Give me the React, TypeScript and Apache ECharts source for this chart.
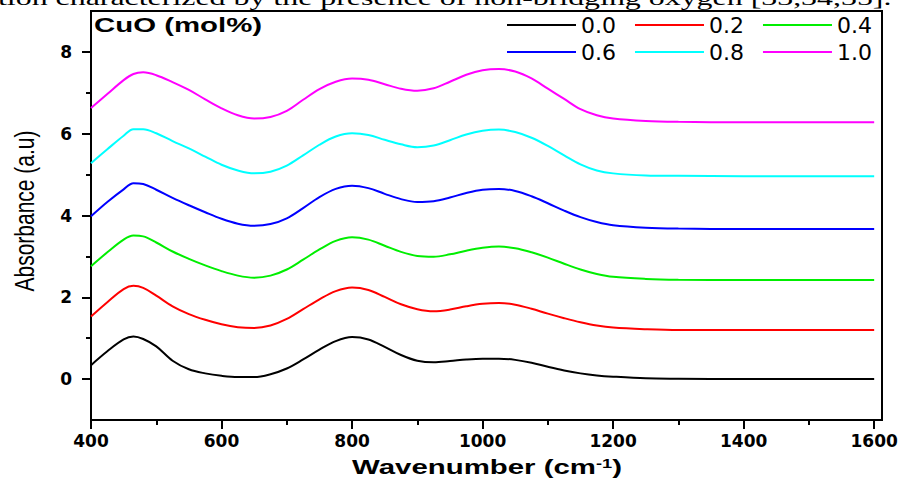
import React, { useEffect, useRef } from 'react';
import * as echarts from 'echarts';

// Wavenumber grid (cm-1)
const wavenumbers = [400, 425, 450, 465, 480, 500, 525, 550, 575, 600, 625, 650, 675, 700, 725, 750, 775, 800, 825, 850, 875, 900, 925, 950, 975, 1000, 1025, 1050, 1075, 1100, 1125, 1150, 1175, 1200, 1250, 1300, 1400, 1500, 1600];

const names = ['0.0', '0.2', '0.4', '0.6', '0.8', '1.0'];
const colors = ['#000000', '#ff0000', '#00ee00', '#0000ff', '#00ffff', '#ff00ff'];

const cuo00 = [0.34, 0.68, 0.97, 1.04, 0.98, 0.80, 0.45, 0.24, 0.14, 0.08, 0.05, 0.05, 0.12, 0.26, 0.48, 0.72, 0.93, 1.03, 0.97, 0.79, 0.59, 0.45, 0.41, 0.44, 0.48, 0.50, 0.50, 0.47, 0.40, 0.30, 0.21, 0.14, 0.09, 0.06, 0.02, 0.01, 0.0, 0.0, 0.0];
const cuo02 = [1.53, 1.88, 2.20, 2.28, 2.23, 2.04, 1.78, 1.59, 1.45, 1.34, 1.27, 1.25, 1.31, 1.47, 1.71, 1.95, 2.15, 2.24, 2.18, 2.01, 1.83, 1.71, 1.66, 1.70, 1.78, 1.84, 1.86, 1.82, 1.72, 1.60, 1.49, 1.39, 1.31, 1.26, 1.22, 1.20, 1.20, 1.20, 1.20];
const cuo04 = [2.76, 3.10, 3.41, 3.51, 3.49, 3.34, 3.12, 2.94, 2.78, 2.64, 2.53, 2.48, 2.53, 2.68, 2.92, 3.17, 3.38, 3.47, 3.41, 3.26, 3.11, 3.01, 2.99, 3.05, 3.14, 3.21, 3.24, 3.20, 3.10, 2.97, 2.82, 2.68, 2.57, 2.50, 2.45, 2.43, 2.42, 2.42, 2.42];
const cuo06 = [3.98, 4.33, 4.64, 4.79, 4.77, 4.63, 4.43, 4.25, 4.08, 3.92, 3.80, 3.75, 3.79, 3.93, 4.18, 4.45, 4.65, 4.73, 4.67, 4.53, 4.40, 4.33, 4.35, 4.44, 4.55, 4.63, 4.65, 4.60, 4.47, 4.30, 4.12, 3.96, 3.84, 3.76, 3.70, 3.68, 3.67, 3.67, 3.67];
const cuo08 = [5.28, 5.62, 5.95, 6.11, 6.11, 6.01, 5.82, 5.64, 5.44, 5.24, 5.10, 5.03, 5.07, 5.22, 5.47, 5.73, 5.93, 6.01, 5.97, 5.85, 5.74, 5.67, 5.71, 5.84, 5.98, 6.07, 6.10, 6.04, 5.90, 5.70, 5.47, 5.25, 5.10, 5.03, 4.98, 4.97, 4.96, 4.96, 4.96];
const cuo10 = [6.63, 6.97, 7.31, 7.46, 7.50, 7.43, 7.26, 7.07, 6.84, 6.62, 6.45, 6.37, 6.41, 6.56, 6.83, 7.09, 7.27, 7.35, 7.32, 7.21, 7.10, 7.05, 7.11, 7.27, 7.44, 7.55, 7.58, 7.52, 7.35, 7.10, 6.85, 6.60, 6.45, 6.37, 6.31, 6.29, 6.28, 6.28, 6.28];

const seriesValues = [cuo00, cuo02, cuo04, cuo06, cuo08, cuo10];

const xMajorTicks = [400, 600, 800, 1000, 1200, 1400, 1600];
const xMinorTicks = [500, 700, 900, 1100, 1300, 1500];
const yMajorTicks = [0, 2, 4, 6, 8];
const yMinorTicks = [1, 3, 5, 7];

const topText = 'tion characterized by the presence of non-bridging oxygen [33,34,35].';

export default function App() {
  const ref = useRef<HTMLDivElement>(null);

  useEffect(() => {
    if (!ref.current) return;
    const chart = echarts.init(ref.current, undefined, { renderer: 'svg', width: 903, height: 479 });

    const tickLabel = {
      color: '#000',
      fontFamily: 'DejaVu Sans',
      fontWeight: 'bold' as const,
      fontSize: 17,
    };
    const axisLineStyle = { color: '#000', width: 2 };

    const series = names.map((n, i) => ({
      name: n,
      type: 'line',
      xAxisIndex: 0,
      yAxisIndex: 0,
      data: wavenumbers.map((w, j) => [w, seriesValues[i][j]]),
      symbol: 'none',
      showSymbol: false,
      smooth: 0.35,
      lineStyle: { color: colors[i], width: 2 },
      itemStyle: { color: colors[i] },
      silent: true,
    }));

    const legendBase = {
      icon: 'rect',
      itemWidth: 69,
      itemHeight: 2,
      itemGap: 19,
      padding: 0,
      selectedMode: false,
      orient: 'horizontal',
      left: 507,
      textStyle: { color: '#000', fontFamily: 'DejaVu Sans', fontSize: 22 },
    };

    const option: any = {
      animation: false,
      backgroundColor: '#ffffff',
      grid: {
        left: 91,
        right: 21,
        top: 11,
        bottom: 59,
        show: true,
        borderColor: '#000',
        borderWidth: 2,
        backgroundColor: 'transparent',
      },
      legend: [
        { ...legendBase, top: 14, data: names.slice(0, 3) },
        { ...legendBase, top: 41, data: names.slice(3, 6) },
      ],
      xAxis: [
        {
          type: 'value',
          position: 'bottom',
          min: 400,
          max: 1612,
          interval: 200,
          axisLine: { show: true, onZero: false, lineStyle: axisLineStyle },
          axisTick: { show: true, inside: false, length: 9, lineStyle: axisLineStyle, customValues: xMajorTicks },
          axisLabel: {
            ...tickLabel,
            margin: 12,
            customValues: xMajorTicks,
            formatter: (v: number) => (v % 200 === 0 ? String(v) : ''),
          },
          splitLine: { show: false },
        },
        {
          type: 'value',
          position: 'bottom',
          min: 400,
          max: 1612,
          interval: 100,
          axisLine: { show: false, onZero: false },
          axisTick: { show: true, inside: false, length: 5, lineStyle: axisLineStyle, customValues: xMinorTicks },
          axisLabel: { show: false },
          splitLine: { show: false },
        },
      ],
      yAxis: [
        {
          type: 'value',
          position: 'left',
          min: -1,
          max: 9,
          interval: 1,
          axisLine: { show: true, onZero: false, lineStyle: axisLineStyle },
          axisTick: { show: true, inside: false, length: 9, lineStyle: axisLineStyle, customValues: yMajorTicks },
          axisLabel: {
            ...tickLabel,
            margin: 19,
            customValues: yMajorTicks,
            formatter: (v: number) => (v % 2 === 0 && v >= 0 && v <= 8 ? String(v) : ''),
          },
          splitLine: { show: false },
        },
        {
          type: 'value',
          position: 'left',
          min: -1,
          max: 9,
          interval: 1,
          axisLine: { show: false, onZero: false },
          axisTick: { show: true, inside: false, length: 5, lineStyle: axisLineStyle, customValues: yMinorTicks },
          axisLabel: { show: false },
          splitLine: { show: false },
        },
      ],
      graphic: [
        {
          type: 'text',
          x: -2,
          y: -2,
          scaleX: 1.45,
          silent: true,
          style: {
            text: topText,
            fontFamily: 'Liberation Serif',
            fontSize: 22,
            fill: '#000',
            align: 'left',
            verticalAlign: 'middle',
          },
        },
        {
          type: 'text',
          x: 94,
          y: 24.5,
          scaleX: 1.4,
          silent: true,
          style: {
            text: 'CuO (mol%)',
            fontFamily: 'Liberation Sans',
            fontWeight: 'bold',
            fontSize: 21,
            fill: '#000',
            align: 'left',
            verticalAlign: 'middle',
          },
        },
        {
          type: 'text',
          x: 24,
          y: 211,
          rotation: Math.PI / 2,
          scaleY: 1.3,
          silent: true,
          style: {
            text: 'Absorbance (a.u)',
            fontFamily: 'Liberation Sans',
            fontSize: 21,
            fill: '#000',
            align: 'center',
            verticalAlign: 'middle',
          },
        },
        {
          type: 'text',
          x: 487,
          y: 467,
          scaleX: 1.4,
          silent: true,
          style: {
            text: '{m|Wavenumber (cm}{s|-1}{m|)}',
            rich: {
              m: { fontFamily: 'Liberation Sans', fontWeight: 'bold', fontSize: 21, fill: '#000' },
              s: { fontFamily: 'Liberation Sans', fontWeight: 'bold', fontSize: 13, fill: '#000', verticalAlign: 'top' },
            },
            fill: '#000',
            align: 'center',
            verticalAlign: 'middle',
          },
        },
      ],
      series,
    };

    chart.setOption(option);
    return () => chart.dispose();
  }, []);

  return (
    <div
      ref={ref}
      style={{ position: 'absolute', left: 0, top: 0, width: 903, height: 479, background: '#fff' }}
    />
  );
}
